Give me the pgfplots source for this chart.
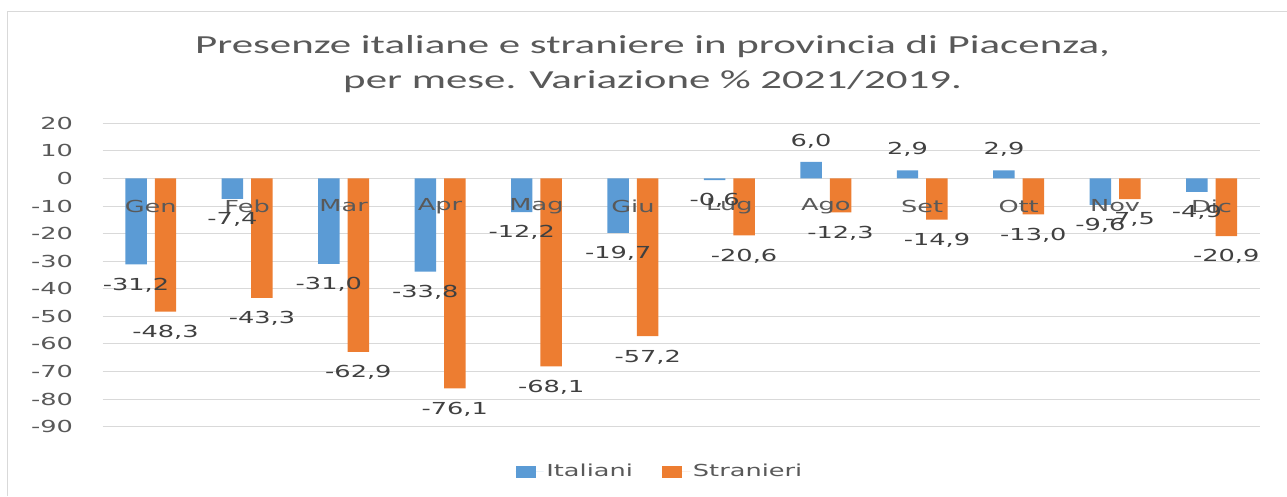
\documentclass[border=0pt]{standalone}
\usepackage{fontspec}
\setmainfont[FakeStretch=1.55]{DejaVu Sans}
\newfontfamily\titlefont[FakeStretch=1.65]{Carlito}
\usepackage{pgfplots}
\pgfplotsset{compat=1.18}
\definecolor{cblue}{HTML}{5B9BD5}
\definecolor{corange}{HTML}{ED7D31}
\definecolor{txt}{HTML}{595959}
\definecolor{lbl}{HTML}{404040}
\definecolor{gridc}{HTML}{D9D9D9}
\newcommand{\lblfont}{\fontsize{12.4}{15}\selectfont}
\begin{document}
\begin{tikzpicture}
\path[use as bounding box] (0,0) rectangle (965.25pt,-372pt);
\draw[gridc, line width=0.75pt] (5.5pt,-372pt) -- (5.5pt,-8.5pt) -- (965.25pt,-8.5pt);
\node[text=txt, font=\titlefont\fontsize{19.5}{26.25}\selectfont, anchor=base] at (489.4pt,-39.75pt) {Presenze italiane e straniere in provincia di Piacenza,};
\node[text=txt, font=\titlefont\fontsize{19.5}{26.25}\selectfont, anchor=base] at (489.4pt,-66pt) {per mese. Variazione \% 2021/2019.};
\begin{axis}[
  at={(76.9pt,-320pt)}, anchor=south west,
  scale only axis, width=867.9pt, height=227.55pt,
  ymin=-90, ymax=20, ytick={-90,-80,...,20},
  xmin=-0.5, xmax=11.5, xtick=\empty,
  ybar=6pt, bar width=16.1pt,
  ymajorgrids, grid style={gridc, line width=0.75pt},
  axis line style={draw=none},
  major tick length=0pt,
  clip=false,
  /pgf/number format/assume math mode=true,
  yticklabel style={font=\lblfont, text=txt, inner xsep=0pt, xshift=-22pt},
  nodes near coords={\pgfmathprintnumber[fixed,fixed zerofill,precision=1,use comma,assume math mode=true]{\pgfplotspointmeta}},
  every node near coord/.append style={font=\lblfont, text=lbl, inner ysep=10pt, inner xsep=0pt},
  legend style={at={(0.482,-0.148)}, anchor=center, draw=none, legend columns=2, font=\lblfont, text=txt,
    /tikz/every even column/.append style={column sep=20pt}},
  legend image code/.code={\fill[#1] (0pt,-4.5pt) rectangle (15pt,4.5pt); \path (0pt,0pt) -- (21pt,0pt);},
]
\addplot[fill=cblue, draw=none] coordinates {(0,-31.2) (1,-7.4) (2,-31.0) (3,-33.8) (4,-12.2) (5,-19.7) (6,-0.6) (7,6.0) (8,2.9) (9,2.9) (10,-9.6) (11,-4.9)};
\addplot[fill=corange, draw=none] coordinates {(0,-48.3) (1,-43.3) (2,-62.9) (3,-76.1) (4,-68.1) (5,-57.2) (6,-20.6) (7,-12.3) (8,-14.9) (9,-13.0) (10,-7.5) (11,-20.9)};
\legend{Italiani, Stranieri}
\node[font=\lblfont, text=txt] at (axis cs:0,-10) {Gen};
\node[font=\lblfont, text=txt] at (axis cs:1,-10) {Feb};
\node[font=\lblfont, text=txt] at (axis cs:2,-10) {Mar};
\node[font=\lblfont, text=txt] at (axis cs:3,-10) {Apr};
\node[font=\lblfont, text=txt] at (axis cs:4,-10) {Mag};
\node[font=\lblfont, text=txt] at (axis cs:5,-10) {Giu};
\node[font=\lblfont, text=txt] at (axis cs:6,-10) {Lug};
\node[font=\lblfont, text=txt] at (axis cs:7,-10) {Ago};
\node[font=\lblfont, text=txt] at (axis cs:8,-10) {Set};
\node[font=\lblfont, text=txt] at (axis cs:9,-10) {Ott};
\node[font=\lblfont, text=txt] at (axis cs:10,-10) {Nov};
\node[font=\lblfont, text=txt] at (axis cs:11,-10) {Dic};
\end{axis}
\end{tikzpicture}
\end{document}
